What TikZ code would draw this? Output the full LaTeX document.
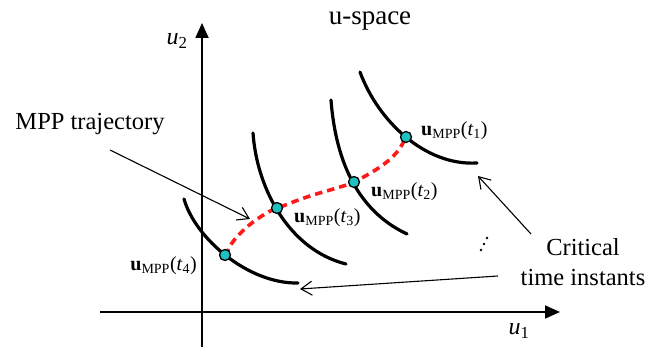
\documentclass[tikz,border=0pt]{standalone}
\usepackage{fontspec}
\setmainfont{Liberation Serif}
\usetikzlibrary{arrows.meta}
\definecolor{ptcyan}{HTML}{1FC0C0}
\definecolor{trajred}{HTML}{FF1A1A}
\newcommand\umpp[1]{\textbf{u}\textsubscript{MPP}(\textit{t}\textsubscript{#1})}
\tikzset{
  axis/.style={line width=1.8pt,-{Triangle[length=15pt,width=13pt]}},
  surf/.style={line width=3.2pt,line cap=round},
  traj/.style={line width=3.6pt,trajred,dash pattern=on 7.5pt off 5pt},
  mpt/.style={circle,draw=black,fill=ptcyan,line width=1.3pt,minimum size=11pt,inner sep=0pt},
  callout/.style={line width=1.1pt,-{Straight Barb[length=11pt,width=14pt,line width=1.1pt]}},
  lbl/.style={font=\fontsize{20}{24}\selectfont,inner sep=0pt},
  big/.style={font=\fontsize{24.5}{29.5}\selectfont,inner sep=0pt},
}
\begin{document}
\begin{tikzpicture}[x=1pt,y=-1pt]
\useasboundingbox (0,0) rectangle (662,347);
% axes
\coordinate (xs) at (100,312);
\coordinate (xe) at (560,312);
\coordinate (ys) at (202,347);
\coordinate (ye) at (202,23);
\draw[axis] (xs) -- (xe);
\draw[axis] (ys) -- (ye);
\node[inner sep=0pt,font=\fontsize{24}{28}\selectfont] (u2) at (177,41) {\textit{u}\textsubscript{2}};
\node[inner sep=0pt,font=\fontsize{24}{28}\selectfont] (u1) at (519,331) {\textit{u}\textsubscript{1}};
\node[inner sep=0pt,font=\fontsize{27}{32}\selectfont] (title) at (370,21) {u-space};
% limit-state curves
\draw[surf] (184,199) .. controls (195,238) and (248,284) .. (298,283);
\draw[surf] (253,133) .. controls (257,190) and (290,250) .. (346,264);
\draw[surf] (331,100) .. controls (336,165) and (360,212) .. (407,234);
\draw[surf] (360,72) .. controls (378,121) and (425,166) .. (477,163);
% MPP trajectory
\draw[traj] plot[smooth,tension=0.7] coordinates {(226,256) (232,243) (247,227) (265,214) (278,208) (307,197) (340,187) (354,182) (380,167) (397,152) (406,137)};
% points
\node[mpt] (p4) at (225,255) {};
\node[mpt] (p3) at (277,208) {};
\node[mpt] (p2) at (354,182) {};
\node[mpt] (p1) at (406,137) {};
\node[lbl,anchor=west] (l1) at (421,131) {\umpp{1}};
\node[lbl,anchor=west] (l2) at (371,192) {\umpp{2}};
\node[lbl,anchor=west] (l3) at (294,218) {\umpp{3}};
\node[lbl,anchor=east] (l4) at (197,266) {\umpp{4}};
% dots
\fill (481,250) circle (1.3pt) (484,244) circle (1.3pt) (487,238) circle (1.3pt);
% callouts
\node[big] (mpp) at (90,124) {MPP trajectory};
\node[big,align=center] (crit) at (583,262) {Critical\\time instants};
\coordinate (a0) at (110,150);
\coordinate (a1) at (250,219);
\draw[callout] (a0) -- (a1);
\coordinate (b0) at (531,234);
\coordinate (b1) at (478,176);
\draw[callout] (b0) -- (b1);
\coordinate (c0) at (498,276);
\coordinate (c1) at (300,289);
\draw[callout] (c0) -- (c1);
\end{tikzpicture}
\end{document}
